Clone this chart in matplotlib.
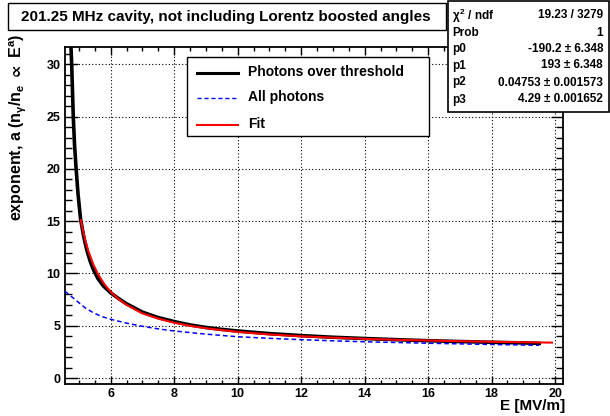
import matplotlib
matplotlib.use("Agg")
import matplotlib.pyplot as plt
from matplotlib.patches import Rectangle
from matplotlib.lines import Line2D
from matplotlib.ticker import MultipleLocator

plt.rcParams['font.family'] = ['Liberation Sans', 'DejaVu Sans']
plt.rcParams['font.weight'] = 'bold'
plt.rcParams['mathtext.fontset'] = 'custom'
plt.rcParams['mathtext.rm'] = 'Liberation Sans:bold'
plt.rcParams['mathtext.it'] = 'Liberation Sans:bold'
plt.rcParams['mathtext.bf'] = 'Liberation Sans:bold'
plt.rcParams['mathtext.fallback'] = 'stixsans'

# ---------------- data ----------------
x_thr = [4.72, 4.75, 4.77, 4.80, 4.82, 4.86, 4.91, 4.97, 5.05, 5.15, 5.25, 5.35,
         5.45, 5.60, 5.77, 6.00, 6.25, 6.50, 6.75, 7.00, 7.50, 8.00, 8.50, 9.00,
         9.50, 10.0, 11.0, 12.0, 13.0, 14.0, 15.0, 16.0, 17.0, 18.0, 19.0, 19.5]
y_thr = [34.0, 31.5, 30.0, 27.0, 25.0, 22.3, 20.0, 17.6, 15.2, 13.5, 12.2, 11.2,
         10.4, 9.5, 8.8, 8.15, 7.6, 7.1, 6.7, 6.3, 5.78, 5.4, 5.08, 4.84,
         4.65, 4.5, 4.25, 4.06, 3.9, 3.78, 3.67, 3.57, 3.49, 3.42, 3.36, 3.32]

x_all = [4.55, 4.60, 4.70, 4.80, 4.90, 5.00, 5.20, 5.45, 5.70, 6.00, 6.50, 7.00,
         7.50, 8.00, 9.00, 10.0, 11.0, 12.0, 13.0, 14.0, 15.0, 16.0, 17.0, 18.0,
         19.0, 19.5]
y_all = [8.3, 8.2, 7.95, 7.7, 7.45, 7.2, 6.7, 6.25, 5.9, 5.62, 5.25, 4.95,
         4.7, 4.5, 4.2, 3.95, 3.8, 3.67, 3.56, 3.47, 3.4, 3.33, 3.27, 3.21,
         3.16, 3.13]

x_fit = [5.06, 5.10, 5.20, 5.30, 5.45, 5.60, 5.80, 6.00, 6.25, 6.50, 7.00, 7.50,
         8.00, 8.50, 9.00, 10.0, 11.0, 12.0, 13.0, 14.0, 15.0, 16.0, 17.0, 18.0,
         19.0, 19.9]
y_fit = [15.1, 14.46, 13.15, 12.1, 10.87, 9.93, 8.97, 8.24, 7.54, 7.0, 6.18, 5.68,
         5.29, 4.99, 4.76, 4.41, 4.17, 3.99, 3.86, 3.75, 3.66, 3.59, 3.52, 3.47,
         3.42, 3.39]

title = "201.25 MHz cavity, not including Lorentz boosted angles"
legend_labels = ["Photons over threshold", "All photons", "Fit"]
stats_names = [r"$\chi^{2}$ / ndf", "Prob", "p0", "p1", "p2", "p3"]
stats_values = ["19.23 / 3279", "1", "-190.2 \u00b1 6.348", "193 \u00b1 6.348",
                "0.04753 \u00b1 0.001573", "4.29 \u00b1 0.001652"]
xlabel = "E [MV/m]"
ylabel = r"exponent, a (n$_{\gamma}$/n$_{e}$ $\propto$ E$^{a}$)"

# ---------------- figure ----------------
W, H = 610, 416
fig = plt.figure(figsize=(W / 100, H / 100), dpi=100)

def fx(px):
    return px / W

def fy(py):
    return 1 - py / H

L, R, T, B = 64.7, 562.7, 46.7, 384.0
ax = fig.add_axes([fx(L), fy(B), fx(R) - fx(L), fy(T) - fy(B)])
ax.set_xlim(4.55, 20.24)
ax.set_ylim(-0.57, 31.69)

ax.plot(x_thr, y_thr, color='black', lw=2.6, zorder=3, solid_joinstyle='round')
ax.plot(x_all, y_all, color='#0000ff', lw=1.1, ls=(0, (3, 2)), zorder=3)
ax.plot(x_fit, y_fit, color='#ff0000', lw=1.5, zorder=4)

ax.xaxis.set_major_locator(MultipleLocator(2))
ax.xaxis.set_minor_locator(MultipleLocator(0.5))
ax.yaxis.set_major_locator(MultipleLocator(5))
ax.yaxis.set_minor_locator(MultipleLocator(1))
ax.grid(True, which='major', color='black', lw=0.8, ls=(0, (1, 2)))
ax.set_axisbelow(True)

ax.tick_params(axis='both', which='both', direction='in', top=True, right=True,
               labelsize=9, width=1.0)
ax.tick_params(axis='x', which='major', length=6, pad=3)
ax.tick_params(axis='x', which='minor', length=3)
ax.tick_params(axis='y', which='major', length=9, pad=3)
ax.tick_params(axis='y', which='minor', length=5)
for lab in ax.get_xticklabels() + ax.get_yticklabels():
    lab.set_fontweight('bold')
for s in ax.spines.values():
    s.set_linewidth(1.3)

# axis titles
fig.text(fx(565), fy(406), xlabel, ha='right', va='center', fontsize=11, fontweight='bold')
fig.text(fx(18), fy(34), ylabel, ha='center', va='top', rotation=90, fontsize=11.5,
         fontweight='bold')

# title box
fig.add_artist(Rectangle((fx(8), fy(29.5)), fx(446) - fx(8), fy(3) - fy(29.5),
                         transform=fig.transFigure, facecolor='white', edgecolor='black',
                         lw=1.0, zorder=10))
fig.text(fx(226), fy(16.5), title, ha='center', va='center', fontsize=11,
         fontweight='bold', zorder=11)

# stats box
fig.add_artist(Rectangle((fx(447.5), fy(111.5)), fx(608.5) - fx(447.5), fy(0.5) - fy(111.5),
                         transform=fig.transFigure, facecolor='white', edgecolor='black',
                         lw=1.2, zorder=10))
rows = [15.5, 32.5, 49, 65.5, 82.5, 99.5]
for yy, n, v in zip(rows, stats_names, stats_values):
    fig.text(fx(452), fy(yy), n, ha='left', va='center', fontsize=8.5,
             fontweight='bold', zorder=11)
    fig.text(fx(603), fy(yy), v, ha='right', va='center', fontsize=8.5,
             fontweight='bold', zorder=11)

# legend box
fig.add_artist(Rectangle((fx(187), fy(136)), fx(429) - fx(187), fy(57) - fy(136),
                         transform=fig.transFigure, facecolor='white', edgecolor='black',
                         lw=1.0, zorder=10))
leg_rows = [72.5, 97.5, 124.5]
styles = [dict(color='black', lw=2.2), dict(color='#0000ff', lw=1.0, ls=(0, (3, 2))),
          dict(color='#ff0000', lw=1.5)]
for yy, lab, st in zip(leg_rows, legend_labels, styles):
    fig.add_artist(Line2D([fx(197), fx(238)], [fy(yy), fy(yy)], transform=fig.transFigure,
                          zorder=11, **st))
    fig.text(fx(248), fy(yy), lab, ha='left', va='center', fontsize=10,
             fontweight='bold', zorder=11)

fig.savefig("out.png", dpi=100)
